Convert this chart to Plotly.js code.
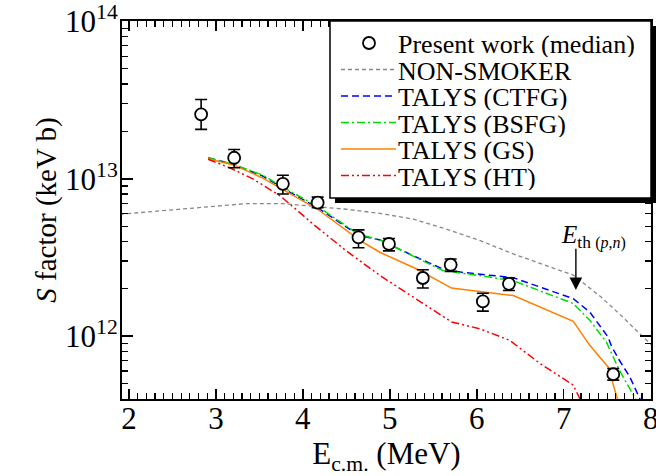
<!DOCTYPE html>
<html><head><meta charset="utf-8">
<script src="https://cdn.plot.ly/plotly-3.0.1.min.js"></script>
<style>html,body{margin:0;padding:0;background:#fff;} #chart{width:656px;height:476px;}</style>
</head><body><div id="chart"></div>
<script>
// ---------- data ----------
const expE = [2.83, 3.21, 3.77, 4.17, 4.64, 4.99, 5.38, 5.70, 6.07, 6.37, 7.57];
const expS = [2.57e13, 1.36e13, 9.29e12, 7.05e12, 4.24e12, 3.85e12, 2.34e12, 2.84e12, 1.66e12, 2.15e12, 5.72e11];
const expErrPlus  = [6.2e12, 1.75e12, 1.25e12, 6.0e11, 4.9e11, 3.2e11, 3.0e11, 2.5e11, 2.1e11, 1.9e11, 5.0e10];
const expErrMinus = [5.1e12, 1.85e12, 1.29e12, 5.0e11, 6.0e11, 3.7e11, 3.2e11, 2.6e11, 2.2e11, 2.0e11, 4.7e10];

const nsE = [1.90, 2.59, 2.97, 3.35, 3.77, 4.12, 4.50, 4.89, 5.27, 5.65, 6.04, 6.42, 6.80, 7.11, 7.43, 7.68, 7.87, 8.02];
const nsS = [5.95e12, 6.40e12, 6.71e12, 6.95e12, 6.95e12, 6.71e12, 6.40e12, 6.02e12, 5.54e12, 4.79e12, 4.04e12, 3.33e12, 2.80e12, 2.44e12, 1.77e12, 1.32e12, 1.04e12, 8.7e11];

const ctfgE = [2.91, 3.21, 3.54, 3.81, 4.17, 4.64, 4.89, 5.27, 5.61, 5.84, 6.42, 7.11, 7.30, 7.51, 7.55, 7.64, 7.76, 7.88];
const ctfgS = [1.36e13, 1.23e13, 1.04e13, 8.45e12, 6.55e12, 4.38e12, 4.08e12, 3.24e12, 2.67e12, 2.54e12, 2.35e12, 1.73e12, 1.42e12, 9.86e11, 8.61e11, 7.02e11, 5.51e11, 3.95e11];

const bsfgE = [2.91, 3.21, 3.54, 3.81, 4.17, 4.64, 4.89, 5.61, 6.04, 6.42, 7.11, 7.30, 7.49, 7.55, 7.64, 7.83];
const bsfgS = [1.36e13, 1.23e13, 1.055e13, 8.6e12, 6.67e12, 4.44e12, 4.08e12, 2.61e12, 2.42e12, 2.25e12, 1.61e12, 1.26e12, 9.17e11, 7.74e11, 6.07e11, 3.95e11];

const gsE = [2.91, 3.21, 3.54, 3.74, 4.17, 4.66, 4.89, 5.31, 5.71, 6.42, 7.11, 7.30, 7.51, 7.62];
const gsS = [1.34e13, 1.22e13, 1.01e13, 8.77e12, 6.40e12, 4.04e12, 3.40e12, 2.67e12, 2.02e12, 1.81e12, 1.24e12, 8.73e11, 6.37e11, 3.95e11];

const htE = [2.91, 3.16, 3.43, 3.74, 4.12, 4.50, 4.89, 5.27, 5.71, 6.04, 6.38, 6.73, 7.11, 7.19];
const htS = [1.33e13, 1.175e13, 9.95e12, 7.78e12, 5.14e12, 3.48e12, 2.42e12, 1.77e12, 1.23e12, 1.11e12, 9.39e11, 6.68e11, 4.88e11, 3.95e11];

const legendLabels = ['Present work (median)', 'NON-SMOKER', 'TALYS (CTFG)', 'TALYS (BSFG)', 'TALYS (GS)', 'TALYS (HT)'];
const xTickVals = [2, 3, 4, 5, 6, 7, 8];
const yTickVals = [1e12, 1e13, 1e14];
const yTickText = ['10<sup>12</sup>', '10<sup>13</sup>', '10<sup>14</sup>'];
const yMinorVals = [4e11, 5e11, 6e11, 7e11, 8e11, 9e11,
  2e12, 3e12, 4e12, 5e12, 6e12, 7e12, 8e12, 9e12,
  2e13, 3e13, 4e13, 5e13, 6e13, 7e13, 8e13, 9e13];
const xTitle = 'E<sub>c.m.</sub> (MeV)';
const yTitle = '<i>S</i> factor (keV b)';
const thLabel = '<i>E</i><sub>th <span style="font-size:16px">(<i>p</i>,<i>n</i>)</span></sub>';
const thE = 7.14, thTipS = 1.96e12, thTailS = 3.67e12;

// ---------- styles ----------
const FONT = 'Liberation Serif, Times New Roman, serif';
const lineStyles = [
  {color:'#888888', width:1.3, dash:'4px,3px'},
  {color:'#0000ff', width:1.5, dash:'7px,4px'},
  {color:'#00dd00', width:1.5, dash:'8px,3px,2px,3px'},
  {color:'#ff8000', width:1.5, dash:'solid'},
  {color:'#ff0000', width:1.5, dash:'8px,3px,2px,3px,2px,3px'}
];
const curveX = [nsE, ctfgE, bsfgE, gsE, htE];
const curveY = [nsS, ctfgS, bsfgS, gsS, htS];

const traces = curveX.map((xs, i) => ({
  type:'scatter', mode:'lines', x: xs, y: curveY[i], name: legendLabels[i+1],
  line: lineStyles[i], hoverinfo:'skip'
}));
traces.push({
  type:'scatter', mode:'markers', x: expE, y: expS, name: legendLabels[0],
  marker:{symbol:'circle', size:12, color:'white', line:{color:'black', width:1.8}},
  error_y:{type:'data', symmetric:false, array: expErrPlus, arrayminus: expErrMinus,
           color:'black', thickness:1.6, width:6}
});

// ---------- layout geometry ----------
const W = 656, H = 476, mL = 122, mR = 5, mT = 21, mB = 77;
const pw = W - mL - mR, ph = H - mT - mB;
const px2x = px => (px - mL) / pw;
const py2y = py => (H - mB - py) / ph;

const shapes = [];
const annotations = [];
// legend shadow and box
shapes.push({type:'rect', xref:'paper', yref:'paper', x0:px2x(335), x1:px2x(656), y0:py2y(203), y1:py2y(26),
  fillcolor:'black', line:{width:0}, layer:'above'});
shapes.push({type:'rect', xref:'paper', yref:'paper', x0:px2x(330), x1:px2x(651), y0:py2y(198), y1:py2y(21),
  fillcolor:'white', line:{color:'black', width:1.5}, layer:'above'});
const rowY0 = 43, rowStep = 26.5, sampleX0 = 341, sampleX1 = 396, textX = 396;
legendLabels.forEach((lab, i) => {
  const ry = rowY0 + i*rowStep;
  if (i === 0) {
    shapes.push({type:'circle', xref:'paper', yref:'paper', xsizemode:'pixel', ysizemode:'pixel',
      xanchor: px2x(369), yanchor: py2y(ry), x0:-6, x1:6, y0:-6, y1:6,
      fillcolor:'white', line:{color:'black', width:1.8}, layer:'above'});
  } else {
    const st = lineStyles[i-1];
    shapes.push({type:'line', xref:'paper', yref:'paper', x0:px2x(sampleX0), x1:px2x(sampleX1),
      y0:py2y(ry), y1:py2y(ry), line:{color:st.color, width:st.width, dash:st.dash}, layer:'above'});
  }
  annotations.push({xref:'paper', yref:'paper', x:px2x(textX), y:py2y(ry+1), xanchor:'left', yanchor:'middle',
    height:26, valign:'middle',
    text: lab, showarrow:false, font:{size:26, family:FONT, color:'black'}});
});
// threshold arrow and label
annotations.push({x: thE, y: Math.log10(thTipS), axref:'x', ayref:'y', ax: thE, ay: Math.log10(thTailS),
  text:'', showarrow:true, arrowhead:2, arrowsize:1.8, arrowwidth:1.4, arrowcolor:'black'});
annotations.push({xref:'paper', yref:'paper', x:px2x(559), y:py2y(236), xanchor:'left', yanchor:'middle',
  text: thLabel, showarrow:false, font:{size:25, family:FONT, color:'black'}});

const axisCommon = {
  showline:true, linewidth:2, linecolor:'black', mirror:'ticks', showgrid:false, zeroline:false,
  ticks:'inside', tickwidth:1.5, tickcolor:'black', ticklabeloverflow:'allow'
};
const layout = {
  width:W, height:H, margin:{l:mL, r:mR, t:mT, b:mB, pad:0},
  font:{family:FONT, color:'black'},
  paper_bgcolor:'white', plot_bgcolor:'white', showlegend:false,
  xaxis: Object.assign({}, axisCommon, {
    range:[1.92, 8.004], tickmode:'array', tickvals:xTickVals, ticklen:10, tickfont:{size:31},
    ticklabelstandoff:-9,
    minor:{dtick:0.1, tick0:0, ticks:'inside', ticklen:6, tickwidth:1.2, tickcolor:'black', showgrid:false},
    title:{text:xTitle, font:{size:31}, standoff:19}
  }),
  yaxis: Object.assign({}, axisCommon, {
    type:'log', range:[11.6, 14.003], tickmode:'array', tickvals:yTickVals, ticktext:yTickText,
    ticklen:11, tickfont:{size:31}, ticklabelstandoff:-4,
    minor:{tickmode:'array', tickvals:yMinorVals, ticks:'inside', ticklen:6, tickwidth:1.2, tickcolor:'black', showgrid:false},
    title:{text:yTitle, font:{size:29}, standoff:0}
  }),
  shapes: shapes, annotations: annotations
};
Plotly.newPlot('chart', traces, layout, {staticPlot:true, displayModeBar:false});
</script></body></html>
